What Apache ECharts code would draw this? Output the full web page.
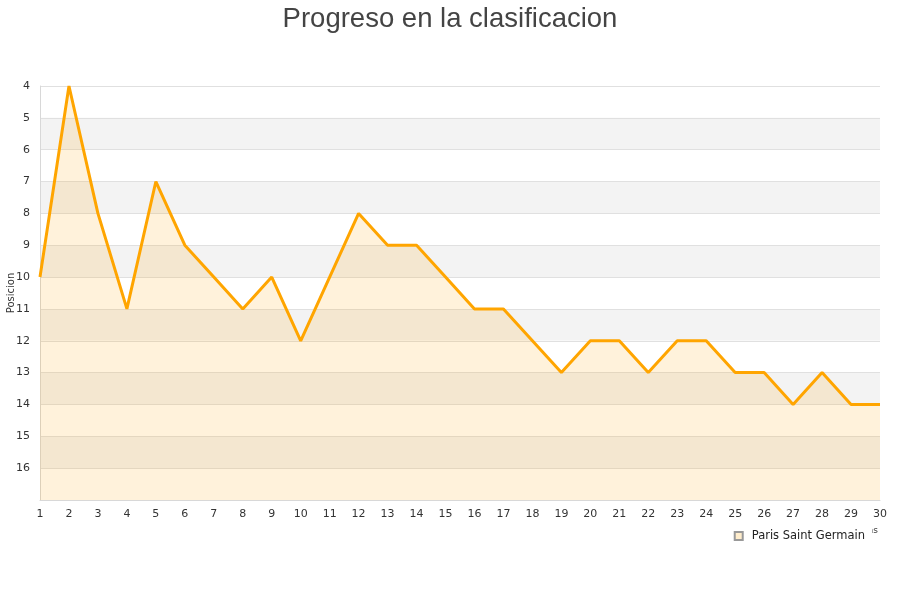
<!DOCTYPE html>
<html>
<head>
<meta charset="utf-8">
<script src="https://cdn.jsdelivr.net/npm/echarts@6/dist/echarts.min.js"></script>
<style>html,body{margin:0;padding:0;background:#fff}#c{width:900px;height:600px}</style>
</head>
<body>
<div id="c"></div>
<script>
const titleText = 'Progreso en la clasificacion';
const seriesName = 'Paris Saint Germain';
const yAxisName = 'Posicion';
const xAxisName = 'Jornadas';
const jornadas = ['1','2','3','4','5','6','7','8','9','10','11','12','13','14','15','16','17','18','19','20','21','22','23','24','25','26','27','28','29','30'];
const posiciones = [10,4,8,11,7,9,10,11,10,12,10,8,9,9,10,11,11,12,13,12,12,13,12,12,13,13,14,13,14,14];

const chart = echarts.init(document.getElementById('c'), null, {renderer:'canvas'});
chart.setOption({
  animation:false,
  backgroundColor:'#fff',
  title:{text:titleText,left:'center',top:0,textStyle:{fontFamily:'Liberation Sans, Arial, sans-serif',fontSize:27.5,fontWeight:'normal',color:'#444'}},
  grid:{left:40,right:20,top:86,bottom:100,containLabel:false,outerBoundsMode:'none'},
  legend:{data:[{name:seriesName,icon:'rect'}],right:28,top:524,itemWidth:8,itemHeight:8,itemGap:10,backgroundColor:'#fff',padding:[6,7,4,4],
    textStyle:{fontFamily:'DejaVu Sans, sans-serif',fontSize:11.5,color:'#222',padding:[0,0,0,4]}},
  xAxis:{type:'category',data:jornadas,boundaryGap:false,
    name:xAxisName,nameLocation:'end',nameGap:-41,nameMoveOverlap:false,nameTextStyle:{fontFamily:'DejaVu Sans, sans-serif',fontSize:9,color:'#333',verticalAlign:'top',padding:[26,0,0,0]},
    axisLine:{lineStyle:{color:'#d8d8d8'}},axisTick:{show:false},
    axisLabel:{margin:9,fontFamily:'DejaVu Sans, sans-serif',fontSize:11,color:'#333'},splitLine:{show:false}},
  yAxis:{type:'value',inverse:true,min:4,max:17,interval:1,
    name:yAxisName,nameLocation:'middle',nameGap:24,nameMoveOverlap:false,nameTextStyle:{fontFamily:'DejaVu Sans, sans-serif',fontSize:10,color:'#333'},
    axisLine:{show:true,lineStyle:{color:'#d8d8d8'}},axisTick:{show:false},
    axisLabel:{showMaxLabel:false,margin:10,fontFamily:'DejaVu Sans, sans-serif',fontSize:11,color:'#333'},
    splitLine:{lineStyle:{color:'#e0e0e0'}},
    splitArea:{show:true,areaStyle:{color:['#ffffff','#f3f3f3']}}},
  series:[{name:seriesName,type:'line',data:posiciones,symbol:'none',
    lineStyle:{color:'#ffa500',width:3},itemStyle:{color:'#ffedcc',borderColor:'#999',borderWidth:1},
    areaStyle:{color:'rgba(255,165,0,0.2)',origin:'end'}}]
});
</script>
</body>
</html>
